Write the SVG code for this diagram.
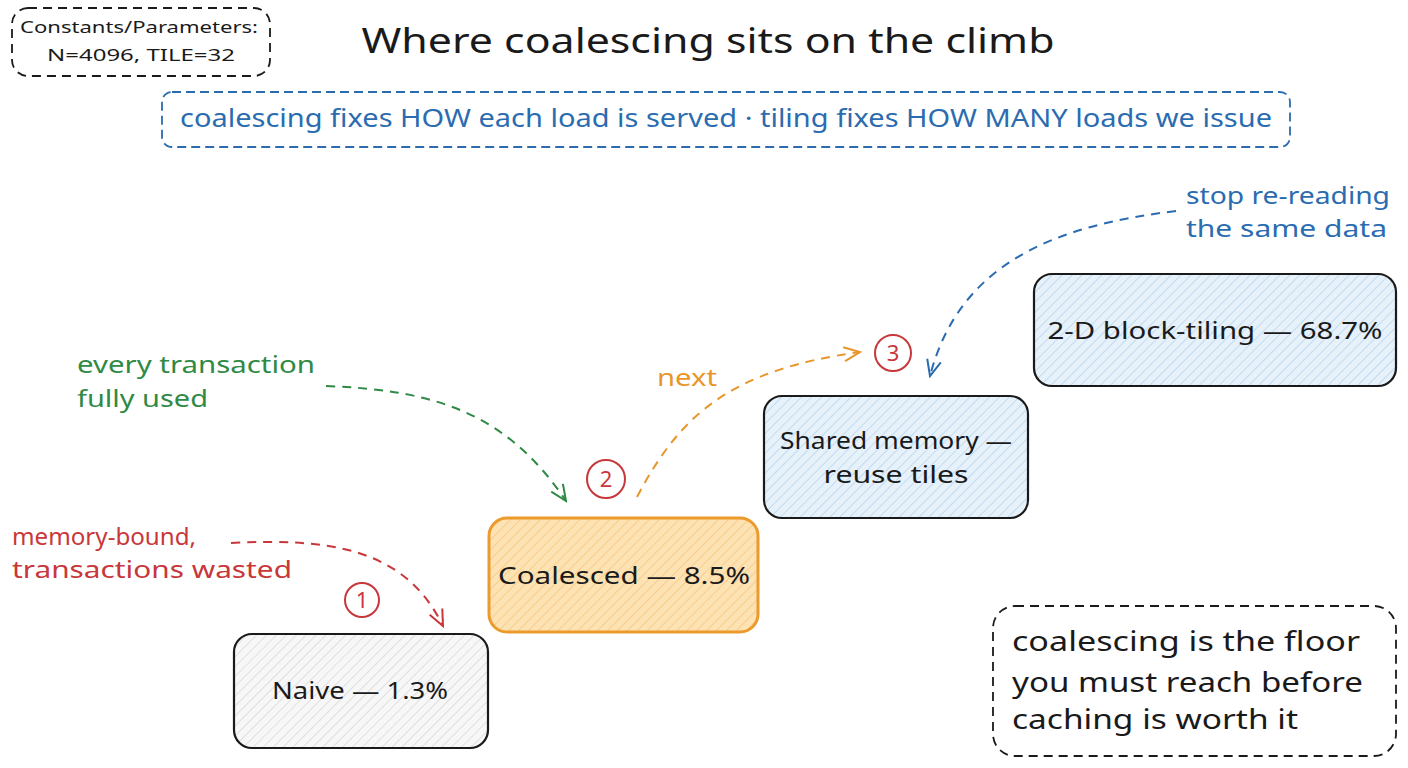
<svg xmlns="http://www.w3.org/2000/svg" width="1408" height="768" viewBox="0 0 1408 768">
<defs>
<pattern id="hGray" width="7" height="7" patternUnits="userSpaceOnUse" patternTransform="rotate(45)">
<rect width="7" height="7" fill="#f7f7f7"/><line x1="0" y1="0" x2="0" y2="7" stroke="#cfcfcf" stroke-width="1.2"/></pattern>
<pattern id="hOrange" width="7" height="7" patternUnits="userSpaceOnUse" patternTransform="rotate(45)">
<rect width="7" height="7" fill="#fde2b4"/><line x1="0" y1="0" x2="0" y2="7" stroke="#f5bf6e" stroke-width="1.2"/></pattern>
<pattern id="hBlue" width="7" height="7" patternUnits="userSpaceOnUse" patternTransform="rotate(45)">
<rect width="7" height="7" fill="#e6f1fa"/><line x1="0" y1="0" x2="0" y2="7" stroke="#a9cdea" stroke-width="1.2"/></pattern>
<marker id="mRed" viewBox="0 0 20 20" refX="18" refY="10" markerWidth="20" markerHeight="20" markerUnits="userSpaceOnUse" orient="auto"><path d="M2 3 L18 10 L2 17" fill="none" stroke="#c8373a" stroke-width="2"/></marker>
<marker id="mGreen" viewBox="0 0 20 20" refX="18" refY="10" markerWidth="20" markerHeight="20" markerUnits="userSpaceOnUse" orient="auto"><path d="M2 3 L18 10 L2 17" fill="none" stroke="#2f8a45" stroke-width="2"/></marker>
<marker id="mOrange" viewBox="0 0 20 20" refX="18" refY="10" markerWidth="20" markerHeight="20" markerUnits="userSpaceOnUse" orient="auto"><path d="M2 3 L18 10 L2 17" fill="none" stroke="#e8962a" stroke-width="2"/></marker>
<marker id="mBlue" viewBox="0 0 20 20" refX="18" refY="10" markerWidth="20" markerHeight="20" markerUnits="userSpaceOnUse" orient="auto"><path d="M2 3 L18 10 L2 17" fill="none" stroke="#2b6cb0" stroke-width="2"/></marker>
</defs>
<style>
text{font-family:"Noto Sans","Liberation Sans",sans-serif;}
.dk{fill:#1a1a1a;}
.node{stroke-width:2.2;}
.dash{fill:none;stroke:#1a1a1a;stroke-width:1.8;stroke-dasharray:9 6;}
.conn{fill:none;stroke-width:2;stroke-dasharray:9 7;}
.num{fill:none;stroke:#c8373a;stroke-width:2;}
.numt{fill:#c8373a;font-size:22px;text-anchor:middle;}
</style>
<rect width="1408" height="768" fill="#ffffff"/>

<g id="constants">
<rect x="12" y="8" width="258" height="68" rx="16" class="dash"/>
<text x="139" y="33" font-size="17" text-anchor="middle" class="dk" textLength="238" lengthAdjust="spacingAndGlyphs">Constants/Parameters:</text>
<text x="141" y="61" font-size="17" text-anchor="middle" class="dk" textLength="188" lengthAdjust="spacingAndGlyphs">N=4096, TILE=32</text>
</g>

<g id="title">
<text x="708" y="53" font-size="35" text-anchor="middle" class="dk" textLength="693" lengthAdjust="spacingAndGlyphs">Where coalescing sits on the climb</text>
</g>

<g id="banner">
<rect x="162" y="92" width="1128" height="55" rx="10" fill="none" stroke="#2b6cb0" stroke-width="1.8" stroke-dasharray="9 5"/>
<text x="726" y="127" font-size="25" text-anchor="middle" fill="#2b6cb0" textLength="1092" lengthAdjust="spacingAndGlyphs">coalescing fixes HOW each load is served · tiling fixes HOW MANY loads we issue</text>
</g>

<g id="naive">
<rect x="234" y="634" width="254" height="114" rx="18" fill="url(#hGray)" stroke="#1a1a1a" class="node"/>
<text x="360" y="699" font-size="24" text-anchor="middle" class="dk" textLength="176" lengthAdjust="spacingAndGlyphs">Naive — 1.3%</text>
</g>

<g id="coalesced">
<rect x="489" y="518" width="269" height="114" rx="18" fill="url(#hOrange)" stroke="#ec9a2c" stroke-width="3"/>
<text x="624" y="584" font-size="24" text-anchor="middle" class="dk" textLength="252" lengthAdjust="spacingAndGlyphs">Coalesced — 8.5%</text>
</g>

<g id="shared">
<rect x="764" y="396" width="264" height="122" rx="18" fill="url(#hBlue)" stroke="#1a1a1a" class="node"/>
<text x="896" y="449" font-size="24" text-anchor="middle" class="dk" textLength="232" lengthAdjust="spacingAndGlyphs">Shared memory —</text>
<text x="896" y="483" font-size="24" text-anchor="middle" class="dk" textLength="145" lengthAdjust="spacingAndGlyphs">reuse tiles</text>
</g>

<g id="blocktiling">
<rect x="1034" y="274" width="362" height="112" rx="18" fill="url(#hBlue)" stroke="#1a1a1a" class="node"/>
<text x="1215" y="339" font-size="24" text-anchor="middle" class="dk" textLength="335" lengthAdjust="spacingAndGlyphs">2-D block-tiling — 68.7%</text>
</g>

<g id="note">
<rect x="993" y="606" width="403" height="150" rx="22" class="dash"/>
<text x="1012" y="651" font-size="28" class="dk" textLength="348" lengthAdjust="spacingAndGlyphs">coalescing is the floor</text>
<text x="1012" y="692" font-size="28" class="dk" textLength="351" lengthAdjust="spacingAndGlyphs">you must reach before</text>
<text x="1012" y="729" font-size="28" class="dk" textLength="286" lengthAdjust="spacingAndGlyphs">caching is worth it</text>
</g>

<g id="steps">
<circle cx="362" cy="600" r="17" class="num"/><text x="362" y="608" class="numt">1</text>
<circle cx="606" cy="479" r="19" class="num"/><text x="606" y="487" class="numt">2</text>
<circle cx="893" cy="353" r="18" class="num"/><text x="893" y="361" class="numt">3</text>
</g>

<g id="labels">
<text x="12" y="545" font-size="24" fill="#c8373a" textLength="184" lengthAdjust="spacingAndGlyphs">memory-bound,</text>
<text x="12" y="578" font-size="24" fill="#c8373a" textLength="280" lengthAdjust="spacingAndGlyphs">transactions wasted</text>
<text x="77" y="373" font-size="24" fill="#2f8a45" textLength="238" lengthAdjust="spacingAndGlyphs">every transaction</text>
<text x="77" y="407" font-size="24" fill="#2f8a45" textLength="131" lengthAdjust="spacingAndGlyphs">fully used</text>
<text x="657" y="386" font-size="24" fill="#e8962a" textLength="60" lengthAdjust="spacingAndGlyphs">next</text>
<text x="1186" y="204" font-size="24" fill="#2b6cb0" textLength="204" lengthAdjust="spacingAndGlyphs">stop re-reading</text>
<text x="1186" y="237" font-size="24" fill="#2b6cb0" textLength="201" lengthAdjust="spacingAndGlyphs">the same data</text>
</g>

<g id="connectors">
<path d="M231 543 C 330 538, 405 548, 443 626" class="conn" stroke="#c8373a" marker-end="url(#mRed)"/>
<path d="M326 386 C 430 390, 505 410, 566 501" class="conn" stroke="#2f8a45" marker-end="url(#mGreen)"/>
<path d="M637 497 C 680 415, 730 370, 860 352" class="conn" stroke="#e8962a" marker-end="url(#mOrange)"/>
<path d="M1176 211 C 1060 225, 960 260, 930 376" class="conn" stroke="#2b6cb0" marker-end="url(#mBlue)"/>
</g>
</svg>
